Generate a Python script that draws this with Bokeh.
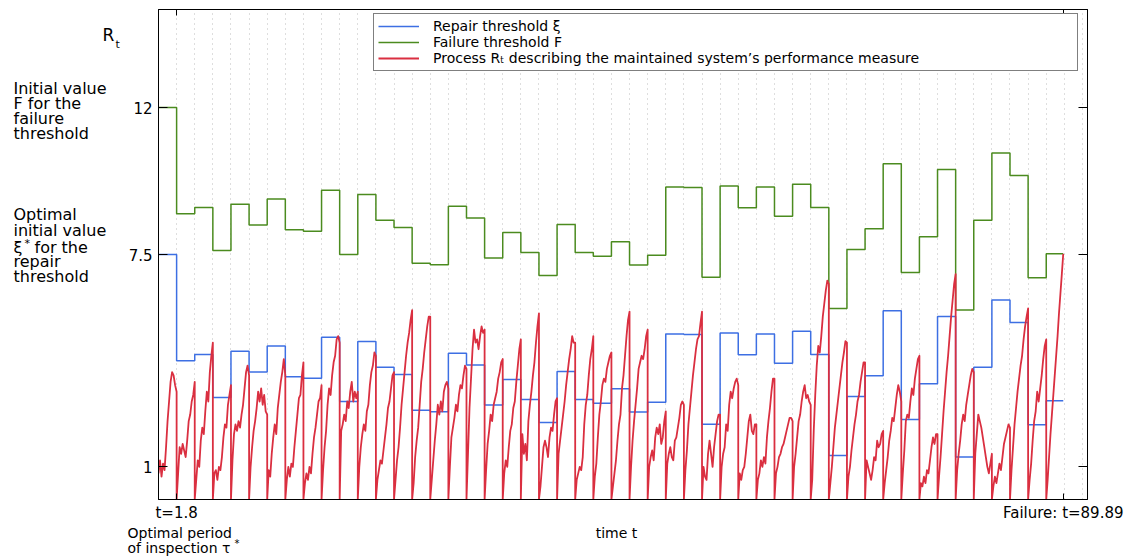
from bokeh.plotting import figure
from bokeh.layouts import row, column
from bokeh.models import FixedTicker, LinearAxis, Range1d, Label, Legend, LegendItem
from bokeh.embed import file_html
from bokeh.resources import INLINE

# inspection period and failure time
TAU = 1.8
T_FAIL = 89.89

# failure threshold F on each inspection interval
failure_threshold = [
    12.0, 8.75, 8.94, 7.62, 9.04, 8.40, 9.20, 8.26, 8.21, 9.47,
    7.50, 9.34, 8.55, 8.33, 7.23, 7.19, 8.98, 8.62, 7.39, 8.17,
    7.56, 6.86, 8.42, 7.56, 7.45, 7.89, 7.18, 7.48, 9.57, 9.55,
    6.80, 9.60, 8.93, 9.57, 8.67, 9.65, 8.94, 5.85, 7.65, 8.29,
    10.28, 6.95, 8.04, 10.10, 5.80, 8.55, 10.61, 9.92, 6.79, 7.52,
]

# repair threshold xi on each inspection interval
repair_threshold = [
    7.50, 4.25, 4.44, 3.12, 4.54, 3.90, 4.70, 3.76, 3.71, 4.97,
    3.00, 4.84, 4.05, 3.83, 2.73, 2.69, 4.48, 4.12, 2.89, 3.67,
    3.06, 2.36, 3.92, 3.06, 2.95, 3.39, 2.68, 2.98, 5.07, 5.05,
    2.30, 5.10, 4.43, 5.07, 4.17, 5.15, 4.44, 1.35, 3.15, 3.79,
    5.78, 2.45, 3.54, 5.60, 1.30, 4.05, 6.11, 5.42, 2.29, 3.02,
]

# process R_t sampled inside each inspection interval (13 samples per interval)
process_samples = [
    [0.8, 1.2, 0.7, 1.1, 0.9, 1.6, 2.4, 3.0, 3.6, 3.9, 3.8, 3.5, 3.3],
    [0, 0.8, 1.6, 1.4, 1.7, 1.5, 1.3, 1.8, 2.4, 2.6, 3.0, 3.2, 3.6],
    [0, 0.6, 1.2, 1.0, 1.8, 2.2, 2.0, 2.7, 3.3, 3.0, 3.9, 4.4, 4.8],
    [0, 0.8, 0.9, 0.6, 1.0, 0.9, 1.3, 1.9, 2.3, 2.2, 2.9, 3.2, 3.5],
    [0, 1.2, 2.0, 2.3, 2.1, 2.4, 2.2, 2.6, 2.9, 3.4, 3.9, 4.1, 3.8],
    [0, 1.0, 1.6, 2.1, 2.4, 2.8, 3.3, 3.0, 3.4, 2.9, 3.2, 2.7, 2.6],
    [0, 0.9, 0.7, 1.4, 1.9, 2.3, 2.0, 2.8, 3.2, 3.6, 3.9, 4.3, 3.8],
    [0, 0.6, 1.0, 0.7, 1.1, 1.0, 1.6, 2.1, 2.6, 3.1, 3.2, 3.8, 4.2],
    [0, 0.5, 0.8, 0.6, 1.0, 0.8, 1.4, 1.9, 2.2, 2.6, 3.0, 3.1, 3.5],
    [0, 0.9, 1.6, 2.1, 2.9, 3.4, 3.2, 3.8, 4.2, 4.4, 4.9, 5.0, 4.8],
    [0, 2.1, 2.3, 2.6, 2.4, 3.0, 2.8, 3.3, 3.6, 3.0, 3.3, 3.1, 3.3],
    [0, 1.0, 1.6, 2.0, 2.3, 2.1, 2.7, 2.9, 3.5, 3.9, 4.1, 4.5, 4.4],
    [0, 0.6, 0.9, 1.2, 1.1, 1.5, 1.9, 2.3, 2.8, 3.0, 3.4, 3.8, 3.9],
    [0, 0.6, 1.2, 1.6, 2.2, 2.9, 3.4, 3.9, 4.4, 4.8, 5.1, 5.5, 5.8],
    [0, 0.5, 1.3, 1.8, 2.2, 2.9, 3.6, 4.0, 4.5, 4.9, 5.3, 5.6, 5.6],
    [0, 0.6, 1.2, 1.8, 2.3, 2.9, 2.6, 3.0, 2.7, 3.3, 3.5, 3.6, 3.4],
    [0, 1.0, 1.9, 2.2, 2.5, 2.9, 2.7, 3.2, 3.5, 3.4, 3.8, 4.1, 4.0],
    [0, 1.4, 2.8, 3.7, 4.6, 5.2, 4.8, 4.9, 4.6, 5.0, 5.3, 5.1, 5.2],
    [0, 0.9, 1.7, 2.1, 2.6, 2.4, 2.9, 3.1, 3.3, 3.7, 3.9, 4.2, 4.3],
    [0, 0.8, 1.2, 1.0, 1.6, 2.1, 2.3, 2.8, 3.0, 3.6, 4.1, 4.6, 4.9],
    [0, 2.0, 1.4, 1.7, 1.2, 2.4, 2.9, 3.3, 3.8, 4.2, 4.8, 5.3, 5.7],
    [0, 0.4, 1.0, 1.6, 1.8, 1.6, 1.3, 1.9, 2.2, 2.1, 2.6, 3.0, 3.1],
    [0, 1.4, 1.8, 2.2, 2.6, 3.0, 3.5, 3.9, 4.3, 4.6, 5.0, 4.8, 4.8],
    [0, 0.6, 0.8, 1.0, 0.9, 1.3, 2.3, 2.9, 3.2, 3.8, 4.3, 4.6, 5.0],
    [0, 0.7, 1.1, 1.9, 2.6, 3.0, 3.5, 3.7, 3.6, 4.0, 4.2, 4.4, 4.5],
    [0, 0.4, 0.8, 1.2, 1.8, 2.3, 2.6, 3.4, 3.8, 4.4, 5.0, 5.5, 5.75],
    [0, 1.0, 1.8, 2.4, 2.9, 3.4, 4.0, 4.2, 4.4, 4.3, 4.6, 5.0, 5.2],
    [0, 1.0, 1.3, 1.5, 1.2, 1.9, 2.2, 2.0, 2.3, 1.7, 1.9, 2.4, 2.7],
    [0, 1.1, 1.4, 1.6, 1.3, 1.2, 1.8, 1.9, 2.2, 2.5, 2.9, 3.0, 2.9],
    [0, 0.9, 1.5, 2.3, 2.8, 3.3, 3.8, 4.2, 4.6, 4.9, 5.0, 5.4, 5.75],
    [0, 1.0, 0.7, 0.6, 1.4, 1.8, 1.4, 1.0, 1.6, 2.0, 2.4, 2.6, 2.6],
    [0, 1.0, 1.4, 1.6, 2.3, 2.1, 2.9, 3.3, 3.1, 3.4, 3.6, 3.7, 3.5],
    [0, 0.8, 0.6, 0.9, 1.0, 1.4, 1.9, 2.4, 2.6, 2.1, 2.0, 2.3, 2.3],
    [0, 0.6, 0.8, 1.2, 1.0, 1.3, 1.1, 1.9, 2.4, 2.8, 3.3, 3.7, 3.7],
    [0, 0.8, 1.0, 1.3, 1.4, 1.6, 1.7, 1.9, 2.1, 2.3, 2.5, 2.5, 2.4],
    [0, 1.0, 1.4, 1.9, 2.4, 2.6, 3.0, 3.3, 3.5, 3.1, 3.2, 3.0, 2.9],
    [0, 0.6, 2.1, 3.2, 4.1, 4.7, 4.5, 5.0, 5.6, 6.0, 6.4, 6.7, 6.6],
    [0, 0.5, 1.0, 1.6, 2.2, 2.6, 3.0, 3.4, 3.8, 4.2, 4.5, 4.85, 4.8],
    [0, 0.7, 1.0, 1.5, 1.9, 2.3, 2.6, 3.0, 3.2, 3.6, 3.9, 4.2, 4.2],
    [0, 1.2, 1.0, 0.8, 0.6, 0.9, 1.3, 1.2, 1.8, 1.6, 1.7, 2.0, 2.1],
    [0, 0.5, 0.9, 1.3, 1.8, 2.1, 2.5, 2.4, 2.8, 3.2, 3.5, 3.3, 3.0],
    [0, 0.8, 1.5, 2.4, 2.6, 2.5, 3.0, 3.4, 3.2, 3.7, 4.0, 4.3, 4.4],
    [0, 0.5, 0.4, 0.7, 0.5, 0.9, 0.8, 1.2, 1.6, 1.9, 1.7, 2.0, 2.0],
    [0, 0.7, 1.3, 2.0, 2.7, 3.3, 3.9, 4.4, 5.0, 5.6, 6.1, 6.6, 6.9],
    [0, 0.9, 1.4, 1.8, 2.3, 2.6, 2.4, 2.9, 3.2, 3.5, 3.8, 4.0, 3.9],
    [0, 1.4, 2.0, 2.6, 2.4, 2.2, 1.9, 1.6, 1.3, 1.0, 0.8, 1.1, 1.4],
    [0, 0.4, 0.7, 0.5, 0.8, 1.1, 0.9, 1.3, 1.7, 1.9, 2.1, 2.3, 2.2],
    [0, 0.9, 1.6, 2.3, 2.8, 3.3, 3.7, 4.1, 4.4, 4.9, 5.3, 5.6, 5.85],
    [0, 0.6, 1.1, 1.8, 2.4, 2.7, 3.3, 3.0, 3.4, 3.8, 4.3, 4.7, 4.9],
    [0, 0.6, 1.3, 2.0, 2.6, 3.2, 3.8, 4.4, 5.0, 5.7, 6.3, 6.9, 7.52],
]

y_ticks = [1, 7.5, 12]
y_tick_labels = {1: "1", 7.5: "7.5", 12: "12"}
x_ticks = [TAU, T_FAIL]
x_tick_labels = {TAU: "t=1.8", T_FAIL: "Failure: t=89.89"}

FONT = "DejaVu Sans"
BLUE = "#3d6fe3"
GREEN = "#4b8b1f"
RED = "#da2f40"

# page geometry (pixels)
W, H = 1145, 556
SIDE_W = 125            # left text column
MAIN_H = 524            # height of the row holding the chart
FRAME_L, FRAME_R, FRAME_T, FRAME_B = 157, 1087, 9, 501

n_int = len(failure_threshold)
starts = [k * TAU for k in range(n_int)]

# step series: hold each interval's value until the next inspection, last one until failure
step_x = starts + [T_FAIL]
green_y = failure_threshold + [failure_threshold[-1]]
blue_y = repair_threshold + [repair_threshold[-1]]

# process path: samples spread evenly in time within each interval,
# the path drops back to zero at every inspection
proc_t, proc_v = [], []
for k, samples in enumerate(process_samples):
    t0 = starts[k]
    t1 = min(t0 + TAU, T_FAIL)
    m = len(samples) - 1
    for j, v in enumerate(samples):
        proc_t.append(t0 + (t1 - t0) * j / m)
        proc_v.append(v)

# ---------------- main chart ----------------
p = figure(width=W - SIDE_W, height=MAIN_H, x_range=Range1d(0, 92.3), y_range=Range1d(0, 15),
           output_backend="svg", toolbar_location=None,
           min_border_left=FRAME_L - SIDE_W, min_border_right=W - FRAME_R,
           min_border_top=FRAME_T, min_border_bottom=MAIN_H - FRAME_B)
p.background_fill_color = "white"
p.border_fill_color = "white"
p.outline_line_color = "black"
p.outline_line_width = 1

r_blue = p.step(step_x, blue_y, mode="after", line_color=BLUE, line_width=1.5)
r_green = p.step(step_x, green_y, mode="after", line_color=GREEN, line_width=1.5)
r_red = p.line(proc_t, proc_v, line_color=RED, line_width=1.8, line_join="round")

# dotted verticals at every inspection
p.xgrid.ticker = FixedTicker(ticks=[k * TAU for k in range(1, 52)])
p.xgrid.grid_line_color = "#bdbdbd"
p.xgrid.grid_line_dash = "1 4"
p.xgrid.grid_line_width = 1
p.ygrid.visible = False

xa = p.xaxis[0]
xa.ticker = FixedTicker(ticks=x_ticks)
xa.major_label_overrides = x_tick_labels
xa.major_tick_in = 6
xa.major_tick_out = 0
xa.minor_tick_line_color = None
xa.major_label_standoff = 4
xa.major_label_text_font = FONT
xa.major_label_text_font_size = "15px"
xa.major_label_text_color = "black"
xa.axis_line_color = "black"

ya = p.yaxis[0]
ya.ticker = FixedTicker(ticks=y_ticks)
ya.major_label_overrides = y_tick_labels
ya.major_tick_in = 9
ya.major_tick_out = 0
ya.minor_tick_line_color = None
ya.major_label_standoff = 6
ya.major_label_text_font = FONT
ya.major_label_text_font_size = "15px"
ya.major_label_text_color = "black"
ya.axis_line_color = "black"

# mirrored tick marks on the right and top edges (no labels there)
right_axis = LinearAxis(ticker=FixedTicker(ticks=y_ticks), major_tick_in=9, major_tick_out=0,
                        minor_tick_line_color=None, major_label_standoff=0,
                        major_label_overrides={t: "" for t in y_ticks},
                        major_label_text_font_size="1px", axis_line_color="black")
p.add_layout(right_axis, "right")
top_axis = LinearAxis(ticker=FixedTicker(ticks=x_ticks), major_tick_in=6, major_tick_out=0,
                      minor_tick_line_color=None, major_label_standoff=0,
                      major_label_overrides={t: "" for t in x_ticks},
                      major_label_text_font_size="1px", axis_line_color="black")
p.add_layout(top_axis, "above")

legend = Legend(items=[
    LegendItem(label="Repair threshold \u03be", renderers=[r_blue]),
    LegendItem(label="Failure threshold F", renderers=[r_green]),
    LegendItem(label="Process R\u209c describing the maintained system\u2019s performance measure",
               renderers=[r_red]),
], location=(215, 428))
legend.border_line_color = "black"
legend.border_line_width = 1
legend.background_fill_color = "white"
legend.background_fill_alpha = 1.0
legend.label_text_font = FONT
legend.label_text_font_size = "14px"
legend.label_text_color = "black"
legend.label_text_line_height = 1.0
legend.glyph_width = 41
legend.glyph_height = 16
legend.label_height = 16
legend.label_width = 640
legend.label_standoff = 14
legend.padding = 4
legend.spacing = 0
legend.margin = 0
p.add_layout(legend)


# ---------------- text panels ----------------
def text_panel(width, height):
    """A blank figure whose data coordinates equal its own pixels (y downwards)."""
    f = figure(width=width, height=height, x_range=Range1d(0, width), y_range=Range1d(height, 0),
               output_backend="svg", toolbar_location=None,
               x_axis_location=None, y_axis_location=None,
               min_border=0, min_border_left=0, min_border_right=0,
               min_border_top=0, min_border_bottom=0)
    f.xgrid.visible = False
    f.ygrid.visible = False
    f.outline_line_color = None
    f.background_fill_color = "white"
    f.border_fill_color = "white"
    return f


def note(f, text, x, y, size="16px", align="left"):
    f.add_layout(Label(x=x, y=y, text=text, text_font=FONT, text_font_size=size,
                       text_align=align, text_baseline="middle", text_color="black"))


side = text_panel(SIDE_W, MAIN_H)
note(side, "R", 102, 27, size="17px")
note(side, "t", 115, 37, size="11px")
note(side, "Initial value", 13, 85)
note(side, "F for the", 13, 101)
note(side, "failure", 13, 117)
note(side, "threshold", 13, 133)
note(side, "Optimal", 13, 219)
note(side, "initial value", 13, 236)
note(side, "\u03be", 13, 254)
note(side, "*", 24, 250, size="11px")
note(side, "for the", 34, 254)
note(side, "repair", 13, 270)
note(side, "threshold", 13, 286)

bottom = text_panel(W, H - MAIN_H)
note(bottom, "Optimal period", 127, 8, size="14px")
note(bottom, "of inspection \u03c4", 127, 23, size="14px")
note(bottom, "*", 234, 19, size="10px")
note(bottom, "time t", (FRAME_L + FRAME_R) / 2 - 6, 8, size="14px", align="center")

layout = column(row(side, p, spacing=0), bottom, spacing=0)
open("out.html", "w").write(file_html(layout, INLINE))
